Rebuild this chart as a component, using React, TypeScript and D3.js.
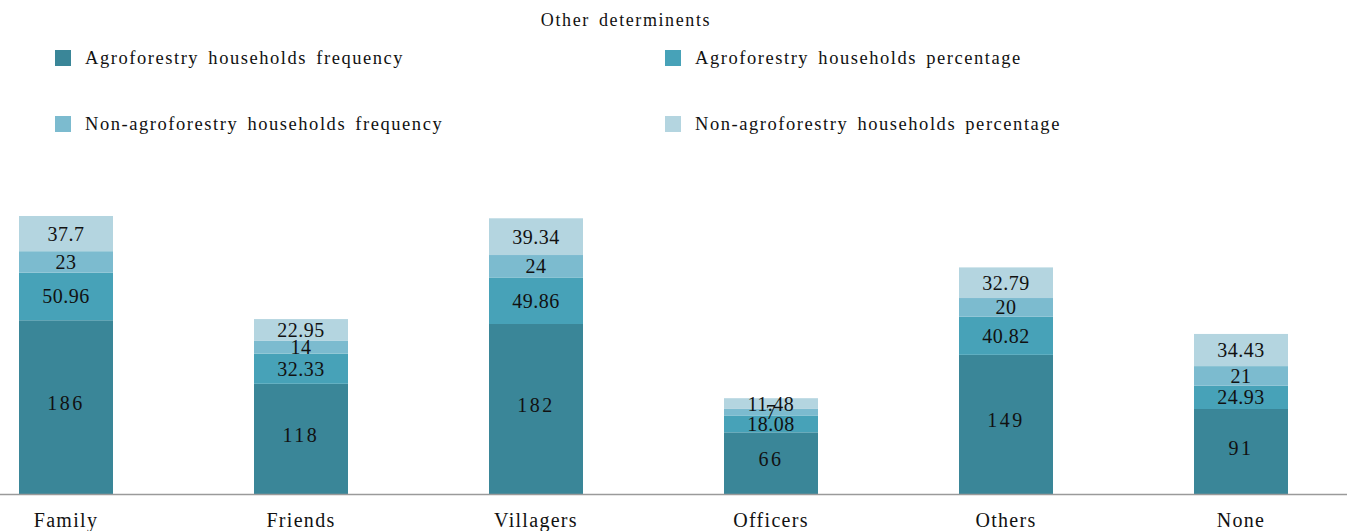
import React from "react";
import * as d3 from "d3";

const categories = ["Family", "Friends", "Villagers", "Officers", "Others", "None"];
const agroFreq = [186, 118, 182, 66, 149, 91];
const agroPct = [50.96, 32.33, 49.86, 18.08, 40.82, 24.93];
const nonFreq = [23, 14, 24, 7, 20, 21];
const nonPct = [37.7, 22.95, 39.34, 11.48, 32.79, 34.43];
const seriesNames = [
  "Agroforestry households frequency",
  "Agroforestry households percentage",
  "Non-agroforestry households frequency",
  "Non-agroforestry households percentage",
];
const seriesColors = ["#3a8698", "#47a2b8", "#7cbbcf", "#b4d5e0"];
const title = "Other determinents";

const W = 1347;
const H = 531;
const FONT = "'Liberation Serif', 'Times New Roman', serif";

export default function App() {
  const series = [agroFreq, agroPct, nonFreq, nonPct];
  const rows = categories.map((c, i) => ({
    cat: c,
    v0: series[0][i],
    v1: series[1][i],
    v2: series[2][i],
    v3: series[3][i],
  }));
  const stack = d3.stack<any>().keys(["v0", "v1", "v2", "v3"])(rows);

  const x = d3
    .scaleBand<string>()
    .domain(categories)
    .range([-51.5, 1358.5])
    .paddingInner(0.6)
    .paddingOuter(0.3);
  const y = d3.scaleLinear().domain([0, 300]).range([494, 213.8]);

  const legendPos = [
    { x: 55, y: 50 },
    { x: 665, y: 50 },
    { x: 55, y: 116 },
    { x: 665, y: 116 },
  ];

  return (
    <svg
      width={W}
      height={H}
      style={{ position: "absolute", left: 0, top: 0, background: "#fff" }}
      fontFamily={FONT}
    >
      <text x={626} y={26} textAnchor="middle" fontSize={18} letterSpacing={1.6} wordSpacing={3} fill="#111">
        {title}
      </text>
      {seriesNames.map((n, i) => (
        <g key={n}>
          <rect x={legendPos[i].x} y={legendPos[i].y} width={16} height={16} fill={seriesColors[i]} />
          <text
            x={legendPos[i].x + 30}
            y={legendPos[i].y + 14}
            fontSize={18.5}
            letterSpacing={1.55}
            wordSpacing={3}
            fill="#111"
          >
            {n}
          </text>
        </g>
      ))}
      {stack.map((layer, si) => (
        <g key={si} fill={seriesColors[si]}>
          {layer.map((d: any) => (
            <rect
              key={d.data.cat}
              x={x(d.data.cat)!}
              y={y(d[1])}
              width={x.bandwidth()}
              height={y(d[0]) - y(d[1])}
            />
          ))}
        </g>
      ))}
      {stack.map((layer, si) => (
        <g key={"l" + si}>
          {layer.map((d: any) => (
            <text
              key={d.data.cat}
              x={x(d.data.cat)! + x.bandwidth() / 2}
              y={(y(d[0]) + y(d[1])) / 2 - (si === 0 ? 4 : 0)}
              dy="0.35em"
              textAnchor="middle"
              fontSize={20}
              letterSpacing={si === 0 ? 2.5 : 0.5}
              fill="#111"
            >
              {String(series[si][categories.indexOf(d.data.cat)])}
            </text>
          ))}
        </g>
      ))}
      <line x1={0} x2={W} y1={y(0) + 0.5} y2={y(0) + 0.5} stroke="#9a9a9a" strokeWidth={1.5} />
      {categories.map((c) => (
        <text
          key={c}
          x={x(c)! + x.bandwidth() / 2}
          y={527}
          textAnchor="middle"
          fontSize={20}
          letterSpacing={1.3}
          fill="#111"
        >
          {c}
        </text>
      ))}
    </svg>
  );
}
